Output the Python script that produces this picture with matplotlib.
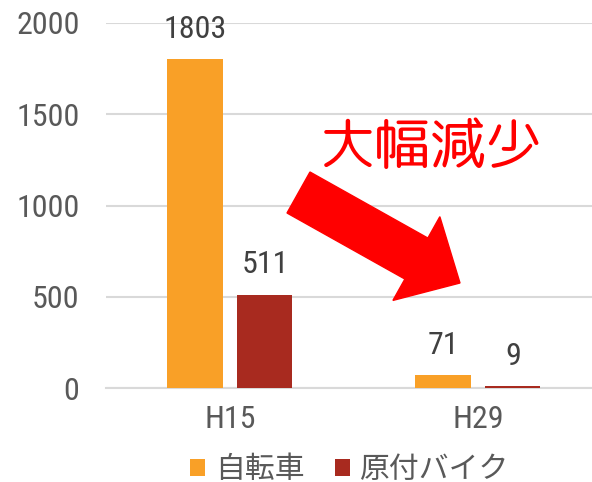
import matplotlib
matplotlib.use("Agg")
import matplotlib.pyplot as plt
import matplotlib.patches as mpatches
import matplotlib.transforms as mtransforms
import numpy as np

plt.rcParams['font.family'] = ['Roboto Condensed', 'Noto Sans CJK JP', 'DejaVu Sans']

# data
categories = ['H15', 'H29']
series_names = ['自転車', '原付バイク']
bicycle = [1803, 71]
moped = [511, 9]
colors = ['#F9A027', '#A82A1F']
y_ticks = [0, 500, 1000, 1500, 2000]

W, H = 592, 482
fig = plt.figure(figsize=(W / 100, H / 100), dpi=100)
# plot area in pixels: x 106..592, y 23..388
ax = fig.add_axes([106 / W, (H - 388) / H, (592 - 106) / W, (388 - 23) / H])

x = np.arange(len(categories))
bw = 0.222
off = 0.141
bars1 = ax.bar(x - off, bicycle, bw, color=colors[0], label=series_names[0], zorder=3)
bars2 = ax.bar(x + off, moped, bw, color=colors[1], label=series_names[1], zorder=3)

for bars in (bars1, bars2):
    for b in bars:
        ax.annotate(str(int(b.get_height())), (b.get_x() + b.get_width() / 2, b.get_height()),
                    xytext=(0, 11), textcoords='offset points', ha='center', va='bottom',
                    fontsize=23, color='#404040')

ax.set_xlim(-0.5, 1.46)
ax.set_ylim(0, 2000)
ax.set_yticks(y_ticks)
ax.set_xticks(x)
ax.set_xticklabels(categories)
ax.grid(axis='y', color='#D9D9D9', linewidth=1.5, zorder=0)
ax.tick_params(axis='both', length=0, labelsize=23, colors='#595959')
ax.tick_params(axis='y', pad=19)
ax.tick_params(axis='x', pad=12)
for s in ['top', 'right', 'left']:
    ax.spines[s].set_visible(False)
ax.spines['bottom'].set_color('#D9D9D9')
ax.spines['bottom'].set_linewidth(1.5)

leg = fig.legend(loc='center', bbox_to_anchor=(350 / W, (H - 470) / H), ncol=2, frameon=False,
                 prop={'family': ['Noto Sans CJK JP', 'DejaVu Sans'], 'size': 21.5},
                 handlelength=0.5, handleheight=0.5, handletextpad=0.34,
                 columnspacing=1.0, borderpad=0)
for t in leg.get_texts():
    t.set_color('#595959')

# arrow and caption, in image pixel coords
pix = mtransforms.Affine2D().scale(1 / W, -1 / H).translate(0, 1) + fig.transFigure
arrow = mpatches.FancyArrow(298.5, 192.5, 460 - 298.5, 283 - 192.5, width=47, head_width=96,
                            head_length=50, length_includes_head=True, color='#FF0000',
                            transform=pix, zorder=5)
fig.patches.append(arrow)
fig.text(431 / W, (H - 149) / H, '大幅減少', color='#FF0000', fontsize=40, fontweight='normal',
         ha='center', va='center', family=['Rounded Mplus 1c', 'Noto Sans CJK JP'])

fig.savefig('out.png', dpi=100)
